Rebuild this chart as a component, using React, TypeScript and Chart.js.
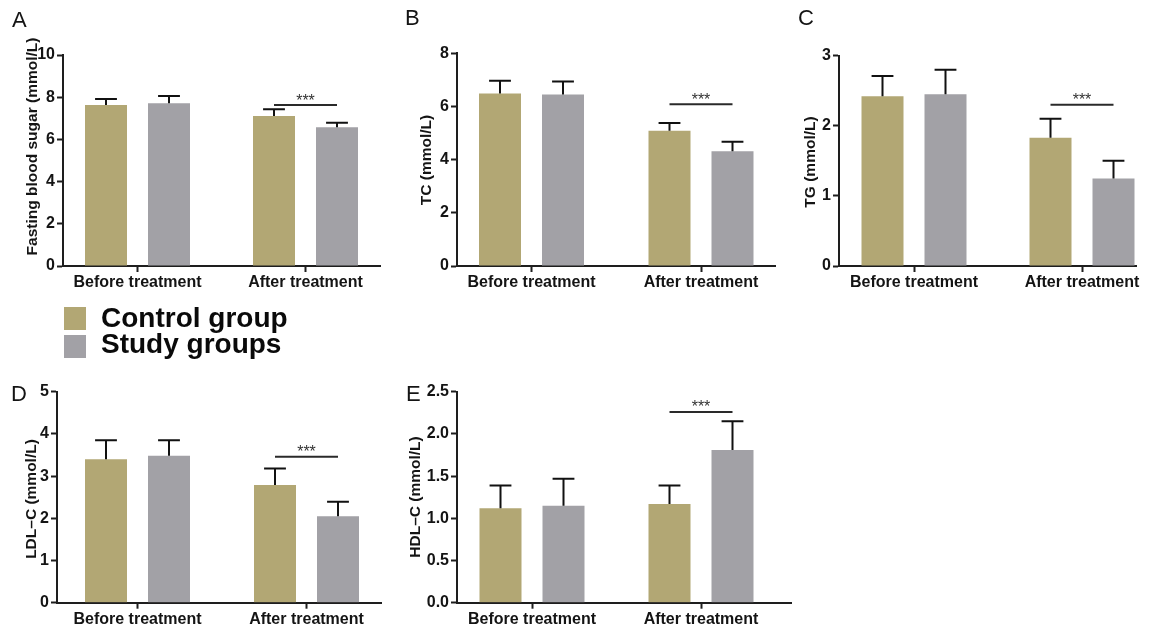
import React, { useEffect, useRef } from 'react';
import { Chart, registerables } from 'chart.js';

Chart.register(...registerables);

const FONT = "'Liberation Sans', Arial, Helvetica, sans-serif";
const CONTROL_COLOR = '#b2a774';
const STUDY_COLOR = '#a2a1a6';
const AXIS_COLOR = '#1e1e1e';
const TEXT_COLOR = '#141414';
const X_AXIS_H = 28;

// ---------- data ----------
const categories = ['Before treatment', 'After treatment'];
const seriesNames = ['Control group', 'Study groups'];
const sigLabel = '***';

// A: fasting blood sugar
const fbsControl = [7.63, 7.11];
const fbsControlSD = [0.28, 0.32];
const fbsStudy = [7.71, 6.57];
const fbsStudySD = [0.35, 0.22];
const fbsSig = 7.63;
const fbsTicks = { max: 10, step: 2, decimals: 0 };

// B: TC
const tcControl = [6.49, 5.09];
const tcControlSD = [0.48, 0.29];
const tcStudy = [6.45, 4.32];
const tcStudySD = [0.49, 0.35];
const tcSig = 6.08;
const tcTicks = { max: 8, step: 2, decimals: 0 };

// C: TG
const tgControl = [2.42, 1.83];
const tgControlSD = [0.29, 0.27];
const tgStudy = [2.45, 1.25];
const tgStudySD = [0.35, 0.25];
const tgSig = 2.3;
const tgTicks = { max: 3, step: 1, decimals: 0 };

// D: LDL-C
const ldlControl = [3.4, 2.79];
const ldlControlSD = [0.45, 0.39];
const ldlStudy = [3.48, 2.05];
const ldlStudySD = [0.37, 0.34];
const ldlSig = 3.46;
const ldlTicks = { max: 5, step: 1, decimals: 0 };

// E: HDL-C
const hdlControl = [1.12, 1.17];
const hdlControlSD = [0.27, 0.22];
const hdlStudy = [1.15, 1.81];
const hdlStudySD = [0.32, 0.34];
const hdlSig = 2.26;
const hdlTicks = { max: 2.5, step: 0.5, decimals: 1 };

// ---------- layout ----------
type Box = { left: number; top: number; width: number; height: number };
type Area = { left: number; top: number; right: number; bottom: number };
type Panel = {
  letter: string;
  letterX: number;
  letterBase: number;
  yTitle: string;
  control: number[];
  controlSD: number[];
  study: number[];
  studySD: number[];
  sig: number;
  ticks: { max: number; step: number; decimals: number };
  box: Box;
  area: Area;
  tickX: number[];
  titleX: number;
  titleY: number;
};

const panels: Panel[] = [
  {
    letter: 'A', letterX: 12, letterBase: 28,
    yTitle: 'Fasting blood sugar (mmol/L)',
    control: fbsControl, controlSD: fbsControlSD, study: fbsStudy, studySD: fbsStudySD, sig: fbsSig, ticks: fbsTicks,
    box: { left: 0, top: 0, width: 390, height: 300 },
    area: { left: 63, top: 55, right: 380, bottom: 266 },
    tickX: [137.5, 305.5], titleX: 33, titleY: 146.5,
  },
  {
    letter: 'B', letterX: 405, letterBase: 26,
    yTitle: 'TC (mmol/L)',
    control: tcControl, controlSD: tcControlSD, study: tcStudy, studySD: tcStudySD, sig: tcSig, ticks: tcTicks,
    box: { left: 390, top: 0, width: 395, height: 300 },
    area: { left: 457, top: 53.3, right: 775, bottom: 266 },
    tickX: [531.5, 701], titleX: 427, titleY: 160,
  },
  {
    letter: 'C', letterX: 798, letterBase: 26,
    yTitle: 'TG (mmol/L)',
    control: tgControl, controlSD: tgControlSD, study: tgStudy, studySD: tgStudySD, sig: tgSig, ticks: tgTicks,
    box: { left: 785, top: 0, width: 366, height: 300 },
    area: { left: 839, top: 55.7, right: 1136, bottom: 266 },
    tickX: [914, 1082], titleX: 811, titleY: 162,
  },
  {
    letter: 'D', letterX: 11, letterBase: 402,
    yTitle: 'LDL–C (mmol/L)',
    control: ldlControl, controlSD: ldlControlSD, study: ldlStudy, studySD: ldlStudySD, sig: ldlSig, ticks: ldlTicks,
    box: { left: 0, top: 340, width: 390, height: 292 },
    area: { left: 57, top: 391.7, right: 381, bottom: 602.7 },
    tickX: [137.5, 306.5], titleX: 32, titleY: 499,
  },
  {
    letter: 'E', letterX: 406, letterBase: 402,
    yTitle: 'HDL–C (mmol/L)',
    control: hdlControl, controlSD: hdlControlSD, study: hdlStudy, studySD: hdlStudySD, sig: hdlSig, ticks: hdlTicks,
    box: { left: 390, top: 340, width: 410, height: 292 },
    area: { left: 457, top: 391.7, right: 791, bottom: 602.7 },
    tickX: [532, 701], titleX: 416, titleY: 497,
  },
];

const BAR_PX = 42;
const BAR_GAP_PX = 21;

function buildConfig(p: Panel): any {
  const { box, area, tickX } = p;
  const spacing = tickX[1] - tickX[0];
  const mL = (tickX[0] - area.left) / spacing;
  const mR = (area.right - tickX[1]) / spacing;
  const slot = BAR_PX + BAR_GAP_PX;

  const decor = {
    id: 'decor' + p.letter,
    afterDatasetsDraw(chart: any) {
      const ctx = chart.ctx;
      const y = chart.scales.y;
      ctx.save();
      // error bars (upper only)
      chart.data.datasets.forEach((ds: any, di: number) => {
        const meta = chart.getDatasetMeta(di);
        meta.data.forEach((bar: any, i: number) => {
          const topPx = y.getPixelForValue(ds.data[i] + ds.sd[i]);
          const half = bar.width * 0.26;
          ctx.strokeStyle = '#111';
          ctx.lineWidth = 2;
          ctx.beginPath();
          ctx.moveTo(bar.x, bar.y);
          ctx.lineTo(bar.x, topPx);
          ctx.moveTo(bar.x - half, topPx);
          ctx.lineTo(bar.x + half, topPx);
          ctx.stroke();
        });
      });
      // significance line on second category
      const b0 = chart.getDatasetMeta(0).data[1];
      const b1 = chart.getDatasetMeta(1).data[1];
      const sy = y.getPixelForValue(p.sig);
      ctx.strokeStyle = '#2a2a2a';
      ctx.lineWidth = 2;
      ctx.beginPath();
      ctx.moveTo(b0.x, sy);
      ctx.lineTo(b1.x, sy);
      ctx.stroke();
      ctx.fillStyle = '#333';
      ctx.font = `16px ${FONT}`;
      ctx.textAlign = 'center';
      ctx.textBaseline = 'alphabetic';
      ctx.fillText(sigLabel, (b0.x + b1.x) / 2, sy + 0.5);
      ctx.restore();
    },
    afterDraw(chart: any) {
      const ctx = chart.ctx;
      ctx.save();
      ctx.translate(p.titleX - box.left, p.titleY - box.top);
      ctx.rotate(-Math.PI / 2);
      ctx.fillStyle = TEXT_COLOR;
      ctx.font = `bold 15.5px ${FONT}`;
      ctx.textAlign = 'center';
      ctx.textBaseline = 'middle';
      ctx.fillText(p.yTitle, 0, 0);
      ctx.restore();
    },
  };

  return {
    type: 'bar',
    data: {
      labels: categories,
      datasets: [
        { label: seriesNames[0], data: p.control, sd: p.controlSD, backgroundColor: CONTROL_COLOR, borderWidth: 0 },
        { label: seriesNames[1], data: p.study, sd: p.studySD, backgroundColor: STUDY_COLOR, borderWidth: 0 },
      ],
    },
    plugins: [decor],
    options: {
      animation: false,
      responsive: false,
      maintainAspectRatio: false,
      devicePixelRatio: 1,
      categoryPercentage: (2 * slot) / spacing,
      barPercentage: BAR_PX / slot,
      layout: {
        padding: {
          left: 0,
          top: area.top - box.top,
          right: box.left + box.width - area.right,
          bottom: box.top + box.height - area.bottom - X_AXIS_H,
        },
      },
      plugins: {
        legend: { display: false },
        tooltip: { enabled: false },
        title: { display: false },
      },
      scales: {
        x: {
          type: 'category',
          offset: true,
          grid: {
            display: true,
            drawOnChartArea: false,
            offset: false,
            drawTicks: true,
            tickLength: 6,
            tickWidth: 2,
            tickColor: AXIS_COLOR,
            color: AXIS_COLOR,
          },
          border: { display: true, color: AXIS_COLOR, width: 2 },
          ticks: {
            color: TEXT_COLOR,
            font: { family: FONT, size: 16, weight: 'bold' },
            padding: 1,
            maxRotation: 0,
            minRotation: 0,
            autoSkip: false,
          },
          afterBuildTicks: (s: any) => {
            s._startValue = -mL;
            s._valueRange = 1 + mL + mR;
          },
          afterFit: (s: any) => {
            s.height = X_AXIS_H;
          },
        },
        y: {
          type: 'linear',
          min: 0,
          max: p.ticks.max,
          grid: {
            display: true,
            drawOnChartArea: false,
            drawTicks: true,
            tickLength: 6,
            tickWidth: 2,
            tickColor: AXIS_COLOR,
            color: AXIS_COLOR,
          },
          border: { display: true, color: AXIS_COLOR, width: 2 },
          ticks: {
            stepSize: p.ticks.step,
            color: TEXT_COLOR,
            font: { family: FONT, size: 16, weight: 'bold' },
            padding: 2,
            callback: (v: any) => Number(v).toFixed(p.ticks.decimals),
          },
          afterFit: (s: any) => {
            s.width = area.left - box.left;
          },
        },
      },
    },
  };
}

function PanelChart({ panel }: { panel: Panel }) {
  const ref = useRef<HTMLCanvasElement | null>(null);
  useEffect(() => {
    if (!ref.current) return;
    const chart = new Chart(ref.current, buildConfig(panel));
    return () => chart.destroy();
  }, [panel]);
  const { box } = panel;
  return (
    <canvas
      ref={ref}
      width={box.width}
      height={box.height}
      style={{ position: 'absolute', left: box.left, top: box.top, width: box.width, height: box.height, display: 'block' }}
    />
  );
}

const LETTER_SIZE = 22;
const LEGEND_SIZE = 28;

export default function App() {
  return (
    <div style={{ position: 'absolute', left: 0, top: 0, width: 1151, height: 632, background: '#fff', overflow: 'hidden', fontFamily: FONT }}>
      {panels.map((p) => (
        <PanelChart key={p.letter} panel={p} />
      ))}
      {panels.map((p) => (
        <div
          key={'l' + p.letter}
          style={{
            position: 'absolute',
            left: p.letterX,
            top: p.letterBase - LETTER_SIZE * 0.85,
            fontSize: LETTER_SIZE,
            lineHeight: `${LETTER_SIZE}px`,
            color: TEXT_COLOR,
          }}
        >
          {p.letter}
        </div>
      ))}
      {seriesNames.map((name, i) => (
        <React.Fragment key={name}>
          <div
            style={{
              position: 'absolute',
              left: 64,
              top: 307 + i * 28,
              width: 22,
              height: 23,
              background: i === 0 ? CONTROL_COLOR : STUDY_COLOR,
            }}
          />
          <div
            style={{
              position: 'absolute',
              left: 101,
              top: 327.5 + i * 26 - LEGEND_SIZE * 0.845,
              fontSize: LEGEND_SIZE,
              lineHeight: `${LEGEND_SIZE}px`,
              fontWeight: 'bold',
              color: '#0a0a0a',
              whiteSpace: 'nowrap',
            }}
          >
            {name}
          </div>
        </React.Fragment>
      ))}
    </div>
  );
}
